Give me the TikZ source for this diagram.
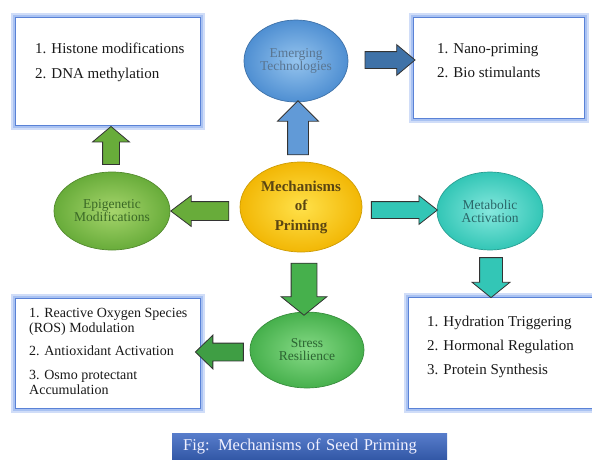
\documentclass[tikz,border=0pt]{standalone}
\usepackage{fontspec}
\setmainfont{Liberation Serif}
\usetikzlibrary{shapes.geometric,shapes.arrows}

\definecolor{glow}{HTML}{A9C2F2}
\definecolor{boxline}{HTML}{5A82D6}
\definecolor{emergfill}{HTML}{4F8FD2}
\definecolor{emerglight}{HTML}{95C4EE}
\definecolor{emergtext}{HTML}{5A7590}
\definecolor{epifill}{HTML}{68AC3A}
\definecolor{epilight}{HTML}{A6D56C}
\definecolor{epitext}{HTML}{3A6826}
\definecolor{corefill}{HTML}{F2B705}
\definecolor{corelight}{HTML}{FFE14A}
\definecolor{coretext}{HTML}{5A4512}
\definecolor{metafill}{HTML}{33C6B6}
\definecolor{metalight}{HTML}{86E8DE}
\definecolor{metatext}{HTML}{2A6668}
\definecolor{stressfill}{HTML}{46B04C}
\definecolor{stresslight}{HTML}{86DA86}
\definecolor{stresstext}{HTML}{2C6432}
\definecolor{capblue}{HTML}{3A66C2}

\tikzset{
  listbox/.style={draw=boxline, line width=1.1pt, fill=white, inner sep=0pt, anchor=north west,
    preaction={draw=glow!55, line width=9pt},
    preaction={draw=glow, line width=5pt}},
  listtext/.style={anchor=north west, inner sep=0pt, align=left, text=black!90},
  bubble/.style={ellipse, inner sep=0pt, line width=.7pt, align=center,
    font=\fontsize{13.5}{13}\selectfont},
  blockarrow/.style={single arrow, draw=black!80, line width=.8pt, inner xsep=0pt,
    single arrow head indent=0pt},
  % for arrows turned up or down the shaft width comes from inner xsep
  vblockarrow/.style={blockarrow, inner ysep=0pt, inner xsep=#1},
}

\begin{document}
\begin{tikzpicture}[x=1pt,y=-1pt]
 \clip (0,0) rectangle (592,459);

 % the four boxes
 \node[listbox, minimum width=185pt, minimum height=108pt] (histbox) at (15,17) {};
 \node[listbox, minimum width=171pt, minimum height=101pt] (nanobox) at (413,17) {};
 \node[listbox, minimum width=185pt, minimum height=110pt] (rosbox) at (15,298) {};
 \node[listbox, minimum width=190pt, minimum height=111pt] (hydrbox) at (408,297) {};

 \node[listtext, font=\fontsize{15}{18}\selectfont] (histlist) at (35,42.5)
   {1. Histone modifications\\[7pt]2. DNA methylation};
 \node[listtext, font=\fontsize{15}{18}\selectfont] (nanolist) at (437,43)
   {1. Nano-priming\\[6pt]2. Bio stimulants};
 \node[listtext, font=\fontsize{14}{15}\selectfont] (roslist) at (29,308.3)
   {1. Reactive Oxygen Species\\(ROS) Modulation\\[8pt]2. Antioxidant Activation\\[9pt]3. Osmo protectant\\Accumulation};
 \node[listtext, font=\fontsize{15}{18}\selectfont] (hydrlist) at (427,315.5)
   {1. Hydration Triggering\\[6pt]2. Hormonal Regulation\\[6pt]3. Protein Synthesis};

 % ellipses
 \node[bubble, draw=emergfill!80!black, inner color=emerglight, outer color=emergfill,
   text=emergtext, minimum width=104pt, minimum height=82pt] (emerg) at (296,61)
   {Emerging\\Technologies};
 \node[bubble, draw=epifill!80!black, inner color=epilight, outer color=epifill,
   text=epitext, minimum width=116pt, minimum height=78pt] (epi) at (112,211)
   {Epigenetic\\Modifications};
 \node[bubble, draw=corefill!85!black, inner color=corelight, outer color=corefill,
   text=coretext, minimum width=122pt, minimum height=90pt,
   font=\fontsize{15}{19.5}\selectfont\bfseries] (core) at (301,207)
   {Mechanisms\\of\\Priming};
 \node[bubble, draw=metafill!80!black, inner color=metalight, outer color=metafill,
   text=metatext, minimum width=106pt, minimum height=78pt] (meta) at (490,211)
   {Metabolic\\Activation};
 \node[bubble, draw=stressfill!80!black, inner color=stresslight, outer color=stressfill,
   text=stresstext, minimum width=114pt, minimum height=76pt] (stress) at (307,350)
   {Stress\\Resilience};

 % block arrows
 \node[vblockarrow=10pt, fill=emergfill!90, minimum height=54pt,
   single arrow head extend=10pt, single arrow tip angle=90, shape border rotate=90] (up1) at (298,133) {};
 \node[blockarrow, fill=emergfill!80!black, minimum height=50pt, inner ysep=8pt,
   single arrow head extend=7pt, single arrow tip angle=80] (right1) at (385,60) {};
 \node[vblockarrow=8pt, fill=epifill, minimum height=38pt,
   single arrow head extend=10pt, single arrow tip angle=100, shape border rotate=90] (up2) at (111,149) {};
 \node[blockarrow, fill=epifill, minimum height=58pt, inner ysep=9pt,
   single arrow head extend=6pt, single arrow tip angle=74, shape border rotate=180] (left1) at (206,211) {};
 \node[blockarrow, fill=metafill, minimum height=66pt, inner ysep=8pt,
   single arrow head extend=6pt, single arrow tip angle=76] (right2) at (399,210) {};
 \node[vblockarrow=11pt, fill=metafill, minimum height=40pt,
   single arrow head extend=7.5pt, single arrow tip angle=102, shape border rotate=270] (down1) at (491,273) {};
 \node[vblockarrow=12.5pt, fill=stressfill, minimum height=52pt,
   single arrow head extend=10pt, single arrow tip angle=102, shape border rotate=270] (down2) at (304,284) {};
 \node[blockarrow, fill=stressfill!90!black, minimum height=48pt, inner ysep=8.5pt,
   single arrow head extend=8pt, single arrow tip angle=88, shape border rotate=180] (left2) at (224,352) {};

 % caption
 \node[anchor=north west, minimum width=275pt, minimum height=27pt, inner xsep=11pt,
   top color=capblue!85!white, bottom color=capblue!85!black, text=white!94!blue,
   text width=253pt, align=left, font=\fontsize{16.5}{18}\selectfont] (caption) at (172,433)
   {Fig: Mechanisms of Seed Priming};
\end{tikzpicture}
\end{document}
